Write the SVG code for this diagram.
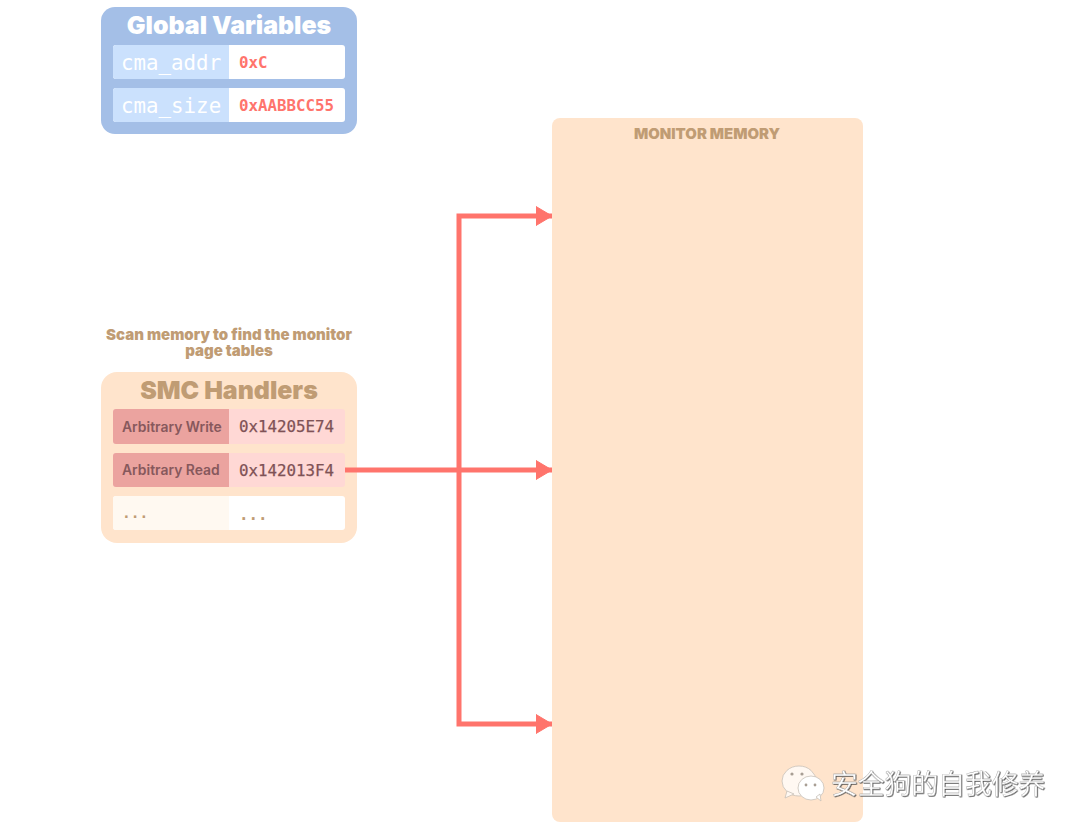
<svg xmlns="http://www.w3.org/2000/svg" width="1080" height="832" viewBox="0 0 1080 832">
<style>
.sans{font-family:Inter,"Liberation Sans",sans-serif;font-weight:900;text-anchor:middle}
.mono{font-family:"DejaVu Sans Mono","Liberation Mono",monospace}
.tan{fill:#c09c74}
.v{font-size:15.8px;font-weight:700;fill:#ff746c}
.dark{font-size:15.8px;fill:#7f5256;stroke:#7f5256;stroke-width:.25px}
.lbl{font-family:Inter,"Liberation Sans",sans-serif;font-size:13.9px;font-weight:600;fill:#87585c}
.wm{font-family:"Noto Sans CJK SC",sans-serif;font-size:26.8px;fill:#fff;stroke:#9a9a9a;stroke-width:.3px;filter:url(#shadow)}
</style>
<defs>
<marker id="arrow" markerUnits="userSpaceOnUse" markerWidth="16" markerHeight="22" refX="16" refY="11" orient="auto"><path d="M0 1.5 L16 11 L0 20.5 Z" fill="#ff746c" stroke="#ff746c" stroke-width="1" stroke-linejoin="round"/></marker>
<filter id="shadow" x="-5%" y="-20%" width="110%" height="140%"><feDropShadow dx=".7" dy=".7" stdDeviation=".35" flood-color="#444"/></filter>
</defs>
<rect width="1080" height="832" fill="#fff"/>
<g id="monitor-memory">
<rect x="552" y="118" width="311" height="704" rx="8" fill="#ffe4cc"/>
<text x="707" y="138.500" class="sans tan" font-size="14.900">MONITOR MEMORY</text>
</g>
<g id="global-variables">
<rect x="101" y="7" width="256" height="127" rx="14" fill="#a4bfe7"/>
<text x="229" y="34" class="sans" font-size="24.900" fill="#fff">Global Variables</text>
<rect x="113" y="45" width="232" height="34" rx="3" fill="#fff"/>
<path d="M229 45H116a3 3 0 0 0-3 3v28a3 3 0 0 0 3 3H229Z" fill="#cbe1fd"/>
<text x="121" y="70" class="mono" font-size="20.800" fill="#fff">cma_addr</text>
<text x="239" y="68" class="mono v">0xC</text>
<rect x="113" y="88" width="232" height="34" rx="3" fill="#fff"/>
<path d="M229 88H116a3 3 0 0 0-3 3v28a3 3 0 0 0 3 3H229Z" fill="#cbe1fd"/>
<text x="121" y="113" class="mono" font-size="20.800" fill="#fff">cma_size</text>
<text x="239" y="111" class="mono v">0xAABBCC55</text>
</g>
<g id="smc-handlers">
<text x="229" y="340" class="sans tan" font-size="15">Scan memory to find the monitor</text>
<text x="229" y="355.500" class="sans tan" font-size="15">page tables</text>
<rect x="101" y="372" width="256" height="171" rx="16" fill="#ffe4cc"/>
<text x="229" y="398.500" class="sans tan" font-size="24.900">SMC Handlers</text>
<rect x="113" y="409" width="232" height="35" rx="3" fill="#ffd8d5"/>
<path d="M229 409H116a3 3 0 0 0-3 3v29a3 3 0 0 0 3 3H229Z" fill="#eba39f"/>
<text x="122" y="432" class="lbl">Arbitrary Write</text>
<text x="239" y="432" class="mono dark">0x14205E74</text>
<rect x="113" y="453" width="232" height="34" rx="3" fill="#ffd8d5"/>
<path d="M229 453H116a3 3 0 0 0-3 3v28a3 3 0 0 0 3 3H229Z" fill="#eba39f"/>
<text x="122" y="475" class="lbl">Arbitrary Read</text>
<text x="239" y="475.500" class="mono dark">0x142013F4</text>
<rect x="113" y="496" width="232" height="34" rx="3" fill="#fff"/>
<path d="M229 496H116a3 3 0 0 0-3 3v28a3 3 0 0 0 3 3H229Z" fill="#fff9f1"/>
<text x="122" y="518" class="mono" font-size="14.500" font-weight="700" fill="#c09c74">...</text>
<text x="239" y="520" class="mono" font-size="15.800" font-weight="700" fill="#c09c74">...</text>
</g>
<g id="connectors" fill="none" stroke="#ff746c" stroke-width="5">
<path d="M345 470H552" marker-end="url(#arrow)"/>
<path d="M459 470V216H552" marker-end="url(#arrow)"/>
<path d="M459 470V724H552" marker-end="url(#arrow)"/>
</g>
<g id="watermark">
<ellipse cx="799" cy="781" rx="17" ry="15" fill="#fff8f2" stroke="#c8c0b8" stroke-width=".8"/>
<path d="M787 791l-2 7 9-4Z" fill="#fff8f2" stroke="#c8c0b8" stroke-width=".8"/>
<ellipse cx="811" cy="788" rx="13" ry="12" fill="#fff" stroke="#c8c0b8" stroke-width=".8"/>
<path d="M816 797l5 4-1-7Z" fill="#fff" stroke="#c8c0b8" stroke-width=".8"/>
<circle cx="792" cy="774" r="1.6" fill="#a89e94"/><circle cx="802" cy="774" r="1.6" fill="#a89e94"/>
<circle cx="806" cy="785" r="1.4" fill="#a89e94"/><circle cx="815" cy="785" r="1.4" fill="#a89e94"/>
<text x="831" y="794" class="wm">安全狗的自我修养</text>
</g>
</svg>
